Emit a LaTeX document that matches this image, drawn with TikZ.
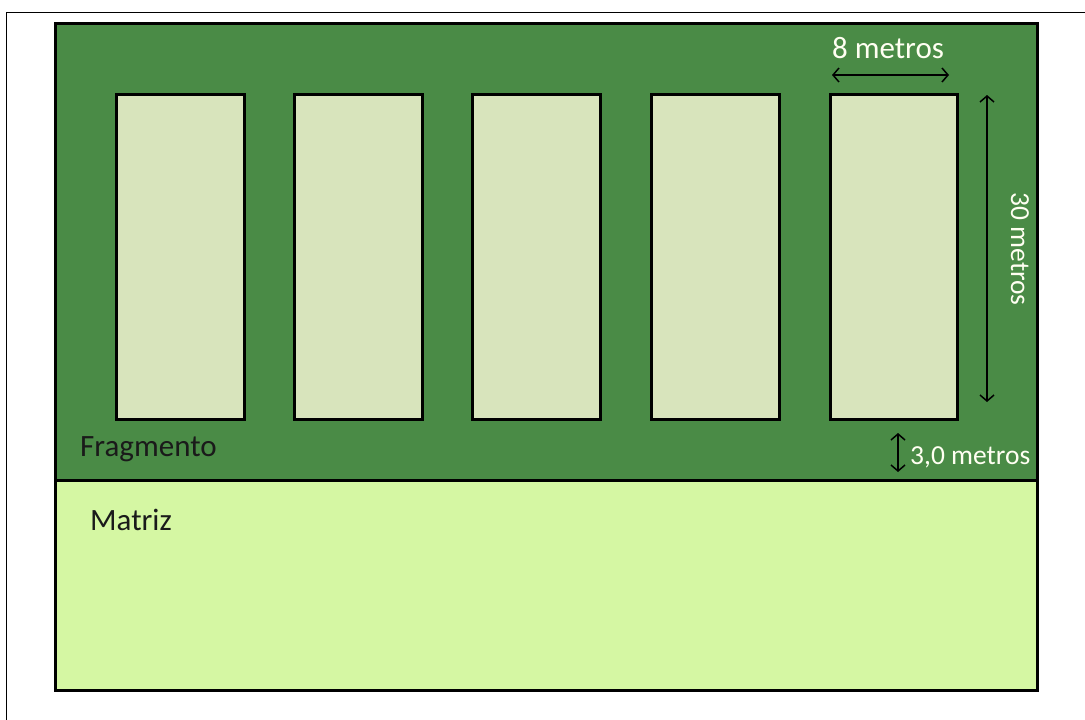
\documentclass[tikz,border=0pt]{standalone}
\usepackage{fontspec}
\setmainfont{Carlito}
\usetikzlibrary{arrows.meta}
\definecolor{fragG}{HTML}{4A8B46}
\definecolor{plotC}{HTML}{D8E4BC}
\definecolor{matC}{HTML}{D5F7A3}
\definecolor{labW}{HTML}{FFFFF2}
\definecolor{darkT}{HTML}{1A1A1A}
\tikzset{
  area/.style={draw=black, line width=3pt},
  plot/.style={draw=black, line width=3pt, fill=plotC, minimum width=128pt, minimum height=325pt, inner sep=0pt},
  dim/.style={line width=1.5pt, {Straight Barb[length=6pt,width=14pt]}-{Straight Barb[length=6pt,width=14pt]}},
  dimlab/.style={text=labW, font=\fontsize{31}{34}\selectfont, inner sep=0pt},
  dimlabs/.style={dimlab, font=\fontsize{27.5}{30}\selectfont},
  arealab/.style={text=darkT, font=\fontsize{31}{34}\selectfont, inner sep=0pt, anchor=west}
}
\begin{document}
\begin{tikzpicture}[x=1pt,y=-1pt]
\useasboundingbox (0,0) rectangle (1085,720);
\fill[white] (0,0) rectangle (1085,720);
% frame
\draw[line width=1.5pt] (6.5,720) -- (6.5,12.5) -- (1085,12.5);
% areas
\filldraw[area, fill=fragG] (55,23) rectangle (1037,480);
\filldraw[area, fill=matC] (55,480) rectangle (1037,690);
% plots
\node[plot] (p1) at (180.5,257) {};
\node[plot] (p2) at (358.5,257) {};
\node[plot] (p3) at (536.5,257) {};
\node[plot] (p4) at (715,257) {};
\node[plot, minimum width=127pt] (p5) at (893.5,257) {};
% dimensions
\coordinate (wL) at (832,75);
\coordinate (wR) at (949,75);
\draw[dim] (wL) -- (wR);
\node[dimlab] (wlab) at (888,48) {8 metros};
\coordinate (hT) at (987,95);
\coordinate (hB) at (987,402);
\draw[dim] (hT) -- (hB);
\node[dimlabs, rotate=-90] (hlab) at (1020,249) {30 metros};
\coordinate (gT) at (898,433);
\coordinate (gB) at (898,472);
\draw[dim] (gT) -- (gB);
\node[dimlabs, anchor=west] (glab) at (910,457) {3,0 metros};
% labels
\node[arealab] (frag) at (80,449) {Fragmento};
\node[arealab] (mat) at (90,520) {Matriz};
\end{tikzpicture}
\end{document}
